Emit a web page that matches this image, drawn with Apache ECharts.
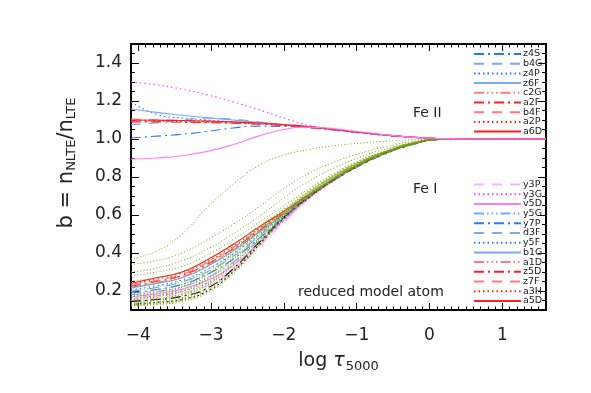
<!DOCTYPE html>
<html><head><meta charset="utf-8">
<script src="https://cdn.jsdelivr.net/npm/echarts@6/dist/echarts.min.js"></script>
<style>html,body{margin:0;padding:0;background:#fff}#c{width:591px;height:393px}</style>
</head><body><div id="c"></div>
<script>
// x grid (log tau_5000)
const X = [-4.1,-3.75,-3.4,-3.05,-2.7,-2.35,-2.0,-1.65,-1.3,-0.95,-0.6,-0.25,0.1,0.45,1.6];
const xMajor = [-4,-3,-2,-1,0,1];
const yMajor = [0.2,0.4,0.6,0.8,1.0,1.2,1.4];

// Fe II departure coefficients
const feII_z4S = [1.005,1.015,1.025,1.04,1.058,1.068,1.066,1.058,1.046,1.032,1.019,1.009,1.002,1.0,1.0];
const feII_b4G = [1.075,1.085,1.1,1.11,1.105,1.09,1.075,1.063,1.049,1.035,1.021,1.01,1.003,1.0,1.0];
const feII_z4P = [1.195,1.13,1.11,1.1,1.09,1.082,1.072,1.062,1.048,1.034,1.02,1.01,1.003,1.0,1.0];
const feII_z6F = [1.158,1.14,1.125,1.112,1.1,1.088,1.075,1.062,1.048,1.034,1.02,1.01,1.003,1.0,1.0];
const feII_c2G = [1.1,1.098,1.095,1.092,1.088,1.082,1.074,1.064,1.05,1.035,1.021,1.01,1.003,1.0,1.0];
const feII_a2F = [1.09,1.09,1.088,1.086,1.083,1.078,1.071,1.062,1.049,1.034,1.02,1.01,1.003,1.0,1.0];
const feII_b4F = [1.105,1.102,1.098,1.094,1.089,1.083,1.075,1.065,1.05,1.035,1.021,1.01,1.003,1.0,1.0];
const feII_a2P = [1.095,1.094,1.092,1.089,1.085,1.08,1.073,1.063,1.049,1.034,1.02,1.01,1.003,1.0,1.0];
const feII_a6D = [1.1,1.099,1.097,1.094,1.09,1.084,1.076,1.065,1.05,1.035,1.021,1.01,1.003,1.0,1.0];
const feII_pinkDot = [1.3,1.285,1.262,1.232,1.195,1.155,1.11,1.072,1.052,1.036,1.022,1.011,1.003,1.0,1.0];
const feII_pinkSolid = [0.895,0.9,0.912,0.935,0.97,1.015,1.05,1.062,1.054,1.038,1.022,1.01,1.003,1.0,1.0];

// Fe I departure coefficients
const feI_a5D = [0.24,0.27,0.30,0.365,0.445,0.535,0.62,0.71,0.795,0.87,0.93,0.973,0.997,1.0,1.0];
const feI_a3H = [0.235,0.262,0.295,0.355,0.435,0.527,0.615,0.708,0.794,0.87,0.93,0.973,0.997,1.0,1.0];
const feI_z7F = [0.23,0.256,0.288,0.348,0.428,0.52,0.611,0.706,0.793,0.869,0.929,0.973,0.997,1.0,1.0];
const feI_z5D = [0.225,0.25,0.282,0.342,0.422,0.515,0.608,0.705,0.792,0.869,0.929,0.972,0.997,1.0,1.0];
const feI_a1D = [0.22,0.245,0.276,0.336,0.416,0.51,0.605,0.704,0.792,0.868,0.929,0.972,0.997,1.0,1.0];
const feI_b1G = [0.215,0.24,0.27,0.33,0.41,0.506,0.603,0.703,0.791,0.868,0.928,0.972,0.997,1.0,1.0];
const feI_y5F = [0.205,0.228,0.258,0.315,0.395,0.495,0.597,0.70,0.79,0.867,0.928,0.972,0.997,1.0,1.0];
const feI_d3F = [0.198,0.218,0.247,0.302,0.382,0.485,0.592,0.698,0.789,0.867,0.928,0.972,0.997,1.0,1.0];
const feI_y7P = [0.19,0.208,0.235,0.288,0.367,0.474,0.585,0.695,0.785,0.86,0.922,0.968,0.996,1.0,1.0];
const feI_y5G = [0.18,0.197,0.222,0.272,0.35,0.462,0.58,0.692,0.786,0.865,0.927,0.971,0.997,1.0,1.0];
const feI_v5D = [0.17,0.185,0.21,0.256,0.334,0.45,0.574,0.69,0.785,0.865,0.926,0.971,0.997,1.0,1.0];
const feI_y3G = [0.16,0.175,0.198,0.242,0.318,0.44,0.568,0.688,0.784,0.864,0.926,0.971,0.997,1.0,1.0];
const feI_y3P = [0.15,0.164,0.186,0.228,0.304,0.43,0.562,0.686,0.783,0.864,0.926,0.971,0.997,1.0,1.0];
const feI_blk1 = [0.13,0.14,0.155,0.2,0.3,0.44,0.583,0.694,0.786,0.864,0.926,0.971,0.997,1.0,1.0];
const feI_blk2 = [0.145,0.155,0.172,0.215,0.315,0.452,0.588,0.697,0.788,0.865,0.927,0.971,0.997,1.0,1.0];

// Fe I other levels (olive dotted)
const feI_g1 = [0.12,0.128,0.145,0.19,0.29,0.43,0.578,0.692,0.785,0.863,0.925,0.97,0.997,1.0,1.0];
const feI_g2 = [0.125,0.135,0.155,0.205,0.305,0.445,0.585,0.696,0.788,0.865,0.926,0.971,0.997,1.0,1.0];
const feI_g3 = [0.13,0.142,0.165,0.22,0.32,0.455,0.59,0.70,0.79,0.867,0.927,0.971,0.997,1.0,1.0];
const feI_g4 = [0.135,0.15,0.175,0.232,0.335,0.465,0.595,0.703,0.793,0.869,0.928,0.972,0.997,1.0,1.0];
const feI_g5 = [0.14,0.158,0.185,0.245,0.35,0.475,0.6,0.707,0.796,0.871,0.929,0.973,0.997,1.0,1.0];
const feI_g6 = [0.15,0.168,0.196,0.258,0.362,0.485,0.604,0.71,0.799,0.873,0.93,0.974,0.998,1.0,1.0];
const feI_g7 = [0.16,0.178,0.207,0.27,0.375,0.495,0.608,0.713,0.802,0.875,0.931,0.975,0.998,1.0,1.0];
const feI_g8 = [0.17,0.19,0.22,0.283,0.388,0.505,0.613,0.716,0.805,0.877,0.932,0.976,0.998,1.0,1.0];
const feI_g9 = [0.185,0.205,0.235,0.297,0.4,0.515,0.618,0.72,0.808,0.879,0.934,0.977,0.998,1.0,1.0];
const feI_g10 = [0.2,0.22,0.25,0.31,0.41,0.522,0.622,0.723,0.81,0.881,0.935,0.977,0.998,1.0,1.0];
const feI_g11 = [0.25,0.27,0.3,0.355,0.44,0.54,0.632,0.73,0.815,0.885,0.937,0.978,0.998,1.0,1.0];
const feI_g12 = [0.28,0.3,0.33,0.39,0.47,0.56,0.648,0.74,0.822,0.89,0.94,0.98,0.998,1.0,1.0];
const feI_g13 = [0.122,0.132,0.15,0.198,0.298,0.438,0.581,0.694,0.786,0.864,0.925,0.97,0.997,1.0,1.0];
const feI_g14 = [0.128,0.139,0.16,0.212,0.312,0.45,0.587,0.698,0.789,0.866,0.926,0.971,0.997,1.0,1.0];
const feI_g15 = [0.138,0.154,0.18,0.238,0.342,0.47,0.597,0.705,0.794,0.87,0.928,0.972,0.997,1.0,1.0];
const feI_g16 = [0.155,0.173,0.2,0.264,0.368,0.49,0.606,0.711,0.8,0.874,0.93,0.974,0.998,1.0,1.0];
const feI_g17 = [0.175,0.196,0.226,0.29,0.394,0.51,0.615,0.718,0.806,0.878,0.933,0.976,0.998,1.0,1.0];
const feI_g18 = [0.22,0.24,0.27,0.33,0.425,0.53,0.627,0.726,0.812,0.883,0.936,0.977,0.998,1.0,1.0];
const feI_oC = [0.30,0.32,0.36,0.42,0.50,0.59,0.69,0.78,0.85,0.905,0.948,0.978,0.995,1.0,1.0];
const feI_oB = [0.34,0.36,0.40,0.47,0.55,0.64,0.74,0.82,0.88,0.925,0.96,0.985,0.997,1.0,1.0];
const feI_oA = [0.37,0.41,0.5,0.64,0.76,0.86,0.915,0.945,0.965,0.978,0.988,0.996,1.0,1.0,1.0];

const BLUE='#2a78ff', LBLUE='#78a8ff', RED='#ff1f1f', LRED='#ff7a7a', PINK='#ff7cff', MAG='#ff40ff', LPINK='#ffb0ff', OLIVE='#73a000';
const DASHDOT=[10,4,2,4], DASH=[10,8], DOT=[1.5,3], DDD=[10,3,1.5,3,1.5,3,1.5,3];

function mk(name, arr, color, type, width){
  return {name:name, type:'line', symbol:'none', showSymbol:false, smooth:0.5,
    silent:true, data:X.map((x,i)=>[x,arr[i]]),
    lineStyle:{color:color, type:type||'solid', width:width||1.1}, itemStyle:{color:color}};
}
const feIIList=[['z4S',feII_z4S,BLUE,DASHDOT],['b4G',feII_b4G,LBLUE,DASH],['z4P',feII_z4P,BLUE,DOT],['z6F',feII_z6F,LBLUE,'solid'],
 ['c2G',feII_c2G,LRED,DDD],['a2F',feII_a2F,RED,DASHDOT],['b4F',feII_b4F,LRED,DASH],['a2P',feII_a2P,RED,DOT],['a6D',feII_a6D,RED,'solid']];
const feIList=[['y3P',feI_y3P,LPINK,DASH],['y3G',feI_y3G,MAG,DOT],['v5D',feI_v5D,PINK,'solid'],['y5G',feI_y5G,LBLUE,DDD],['y7P',feI_y7P,BLUE,DASHDOT],
 ['d3F',feI_d3F,LBLUE,DASH],['y5F',feI_y5F,BLUE,DOT],['b1G',feI_b1G,LBLUE,'solid'],['a1D',feI_a1D,LRED,DDD],['z5D',feI_z5D,RED,DASHDOT],
 ['z7F',feI_z7F,LRED,DASH],['a3H',feI_a3H,RED,DOT],['a5D',feI_a5D,RED,'solid']];
const olive=[feI_g1,feI_g2,feI_g3,feI_g4,feI_g5,feI_g6,feI_g7,feI_g8,feI_g9,feI_g10,feI_g11,feI_g12,
  feI_g13,feI_g14,feI_g15,feI_g16,feI_g17,feI_g18,feI_oC,feI_oB,feI_oA];

const series=[];
feIList.slice().reverse().forEach(s=>series.push(mk(s[0],s[1],s[2],s[3])));
series.push(mk('_k1',feI_blk1,'#000',DOT));
series.push(mk('_k2',feI_blk2,'#000',DASHDOT));
olive.forEach((a,i)=>series.push(mk('_g'+i,a,OLIVE,[1,2.2],1)));
feIIList.forEach(s=>series.push(mk(s[0],s[1],s[2],s[3])));
series.push(mk('_p1',feII_pinkDot,MAG,DOT));
series.push(mk('_p2',feII_pinkSolid,PINK,'solid'));

const FONT='DejaVu Sans';
const legendBase={orient:'vertical',left:468,itemWidth:47,itemHeight:8,itemGap:-0.3,selectedMode:false,
  itemStyle:{opacity:0,borderWidth:0},
  textStyle:{fontSize:9.5,color:'#222',fontFamily:FONT,padding:[0,0,0,-3]}};
const ax={min:-4.1,max:1.6};
const ay={min:0.1,max:1.5};
const option={
  animation:false,
  grid:{left:131,right:45,top:44,bottom:83},
  legend:[Object.assign({top:44,data:feIIList.map(s=>s[0])},legendBase),
          Object.assign({top:174.5,data:feIList.map(s=>s[0])},legendBase)],
  xAxis:[
    Object.assign({type:'value',position:'bottom',axisLine:{show:true,onZero:false,lineStyle:{color:'#000',width:2}},
      axisTick:{show:true,inside:true,length:7,customValues:xMajor,lineStyle:{color:'#000',width:1}},
      axisLabel:{customValues:xMajor,fontSize:17,color:'#222',fontFamily:FONT,margin:17,formatter:v=>(v<0?'\u2212'+(-v):''+v)},
      splitLine:{show:false},
      name:'{a|log }{t|\u03c4}{s|5000}',nameLocation:'middle',nameGap:40,
      nameTextStyle:{rich:{a:{fontSize:19,color:'#222',fontFamily:FONT},t:{fontSize:19,color:'#222',fontFamily:FONT,fontStyle:'italic'},
        s:{fontSize:13,color:'#222',fontFamily:FONT,padding:[10,0,0,1]}}}},ax),
    Object.assign({type:'value',position:'bottom',interval:0.1,axisLine:{show:false,onZero:false},axisTick:{show:true,inside:true,length:3.5,lineStyle:{color:'#000'}},
      axisLabel:{show:false},splitLine:{show:false}},ax),
    Object.assign({type:'value',position:'top',axisLine:{show:true,onZero:false,lineStyle:{color:'#000',width:2}},
      axisTick:{show:true,inside:true,length:7,customValues:xMajor,lineStyle:{color:'#000'}},axisLabel:{show:false},splitLine:{show:false}},ax),
    Object.assign({type:'value',position:'top',interval:0.1,axisLine:{show:false,onZero:false},axisTick:{show:true,inside:true,length:3.5,lineStyle:{color:'#000'}},
      axisLabel:{show:false},splitLine:{show:false}},ax)
  ],
  yAxis:[
    Object.assign({type:'value',position:'left',axisLine:{show:true,onZero:false,lineStyle:{color:'#000',width:2}},
      axisTick:{show:true,inside:true,length:8,customValues:yMajor,lineStyle:{color:'#000'}},
      axisLabel:{customValues:yMajor,fontSize:17,color:'#222',fontFamily:FONT,margin:9,formatter:v=>v.toFixed(1)},splitLine:{show:false}},ay),
    Object.assign({type:'value',position:'left',interval:0.05,axisLine:{show:false,onZero:false},axisTick:{show:true,inside:true,length:4,lineStyle:{color:'#000'}},
      axisLabel:{show:false},splitLine:{show:false}},ay),
    Object.assign({type:'value',position:'right',axisLine:{show:true,onZero:false,lineStyle:{color:'#000',width:2}},
      axisTick:{show:true,inside:true,length:8,customValues:yMajor,lineStyle:{color:'#000'}},axisLabel:{show:false},splitLine:{show:false}},ay),
    Object.assign({type:'value',position:'right',interval:0.05,axisLine:{show:false,onZero:false},axisTick:{show:true,inside:true,length:4,lineStyle:{color:'#000'}},
      axisLabel:{show:false},splitLine:{show:false}},ay)
  ],
  graphic:[
    {type:'text',x:67,y:163,rotation:Math.PI/2,style:{text:'{a|b = n}{s|NLTE}{a|/n}{s|LTE}',align:'center',verticalAlign:'middle',
      rich:{a:{fontSize:21,fill:'#222',fontFamily:FONT},s:{fontSize:13,fill:'#222',fontFamily:FONT,padding:[10,0,0,0]}}}},
    {type:'text',left:413,top:106,style:{text:'Fe II',fontSize:14,fill:'#222',fontFamily:FONT}},
    {type:'text',left:413,top:182,style:{text:'Fe I',fontSize:14,fill:'#222',fontFamily:FONT}},
    {type:'text',left:298,top:285,style:{text:'reduced model atom',fontSize:14,fill:'#222',fontFamily:FONT}}
  ],
  series:series
};
const chart=echarts.init(document.getElementById('c'),null,{renderer:'canvas'});
chart.setOption(option);
</script></body></html>
